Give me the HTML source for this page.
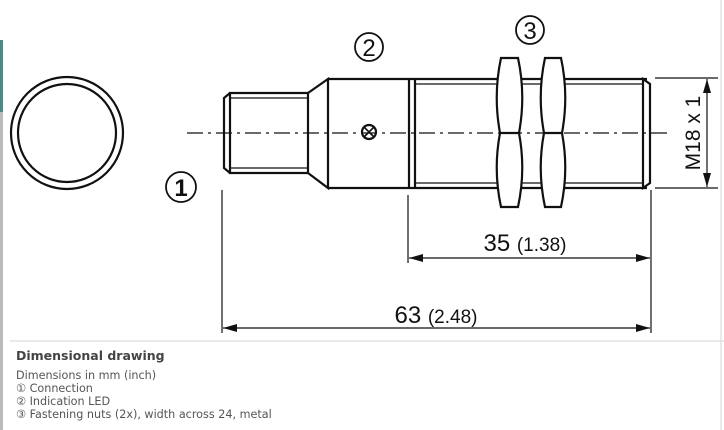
<!DOCTYPE html>
<html><head><style>
body{margin:0;width:724px;height:430px;background:#fff;overflow:hidden;position:relative;font-family:"Liberation Sans",sans-serif}
.cap{position:absolute;left:16px;top:348px;color:#555}
.cap b{display:block;font-size:14px;color:#444;margin-bottom:6px;font-family:"DejaVu Sans","Liberation Sans",sans-serif;font-size:12.5px}
.cap div{line-height:13px;font-family:"DejaVu Sans","Liberation Sans",sans-serif;font-size:11.2px}
</style></head><body>
<div style="position:absolute;left:0;top:40px;width:3px;height:72px;background:#4a8a8c"></div>
<div style="position:absolute;left:0;top:112px;width:3px;height:318px;background:#bbb"></div>
<svg width="724" height="430" style="position:absolute;left:0;top:0">
<defs><marker id="a" markerWidth="14" markerHeight="8" refX="14" refY="4" orient="auto" markerUnits="userSpaceOnUse"><path d="M0,0 L14,4 L0,8z" fill="#111"/></marker></defs>
<g fill="none" stroke="#111" stroke-width="2.2">
<circle cx="67" cy="133" r="56"/><circle cx="67" cy="133" r="49"/>
<path d="M230,93 L308,93 L308,173 L230,173 Z"/>
<path d="M230,93 L224,98 L224,168 L230,173"/>
<line x1="230" y1="93" x2="230" y2="173" stroke-width="1.5"/>
<line x1="230" y1="98" x2="308" y2="98" stroke-width="1.2"/>
<line x1="230" y1="168" x2="308" y2="168" stroke-width="1.2"/>
<path d="M308,93 L328,79 L328,188 L308,173"/>
<path d="M328,79 L647,79 M328,188 L647,188"/>
<line x1="409" y1="79" x2="409" y2="188"/><line x1="415" y1="79" x2="415" y2="188"/>
<line x1="415" y1="84" x2="643" y2="84" stroke-width="1.3"/><line x1="415" y1="183" x2="643" y2="183" stroke-width="1.3"/>
<path d="M643,79 L650,84 L650,183 L643,188 Z"/>
<circle cx="369" cy="132" r="7"/>
<path d="M364,127 L374,137 M374,127 L364,137" stroke-width="1.6"/>
<path d="M501,58 L518,58 Q526,95 519,133 Q526,170 518,207 L501,207 Q493,170 500,133 Q493,95 501,58 Z" fill="#fff"/>
<line x1="500" y1="133" x2="519" y2="133"/>
<path d="M545,58 L561,58 Q569,95 562,133 Q569,170 561,207 L545,207 Q537,170 544,133 Q537,95 545,58 Z" fill="#fff"/>
<line x1="544" y1="133" x2="562" y2="133"/>
</g>
<line x1="187" y1="133" x2="672" y2="133" stroke="#111" stroke-width="1.2" stroke-dasharray="16,5,3,5"/>
<g stroke="#111" stroke-width="1.2" fill="none">
<line x1="655" y1="78" x2="718" y2="78"/><line x1="655" y1="188" x2="718" y2="188"/>
<line x1="707" y1="133" x2="707" y2="79" marker-end="url(#a)"/><line x1="707" y1="133" x2="707" y2="187" marker-end="url(#a)"/>
<line x1="408" y1="195" x2="408" y2="263"/><line x1="651" y1="190" x2="651" y2="333"/><line x1="222" y1="190" x2="222" y2="333"/>
<line x1="529" y1="258" x2="409" y2="258" marker-end="url(#a)"/><line x1="529" y1="258" x2="650" y2="258" marker-end="url(#a)"/>
<line x1="436" y1="328" x2="223" y2="328" marker-end="url(#a)"/><line x1="436" y1="328" x2="650" y2="328" marker-end="url(#a)"/>
<line x1="10" y1="341" x2="724" y2="341" stroke="#ddd"/>
<line x1="721" y1="0" x2="721" y2="430" stroke="#ddd"/>
<circle cx="369" cy="47" r="14" stroke-width="1.8"/><circle cx="530" cy="30" r="14" stroke-width="1.8"/><circle cx="181" cy="187" r="15" stroke-width="1.8"/>
</g>
<g font-family="Liberation Sans, sans-serif" fill="#111" text-anchor="middle">
<text x="369" y="56" font-size="24">2</text><text x="530" y="39" font-size="24">3</text><text x="181" y="196" font-size="24" font-weight="bold">1</text>
<text x="525" y="251" font-size="24">35 <tspan font-size="19">(1.38)</tspan></text>
<text x="436" y="323" font-size="24">63 <tspan font-size="19">(2.48)</tspan></text>
<text x="0" y="0" font-size="21" transform="translate(700,133) rotate(-90)">M18 x 1</text>
</g>
</svg>
<div class="cap"><b>Dimensional drawing</b>
<div>Dimensions in mm (inch)</div><div>① Connection</div><div>② Indication LED</div><div>③ Fastening nuts (2x), width across 24, metal</div></div>
</body></html>
